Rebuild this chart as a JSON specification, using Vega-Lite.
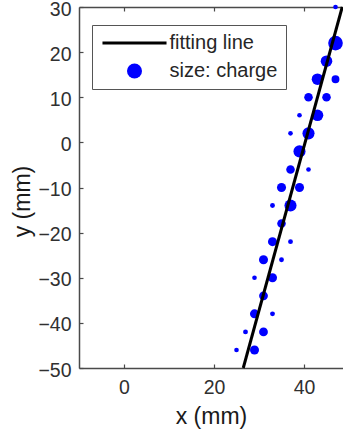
{
  "$schema": "https://vega.github.io/schema/vega-lite/v6.json",
  "width": 264,
  "height": 361,
  "autosize": "none",
  "padding": {"left": 79, "top": 7, "right": 0, "bottom": 64},
  "background": "white",
  "config": {
    "view": {"stroke": null},
    "font": "Liberation Sans",
    "axis": {
      "grid": false,
      "domainColor": "#4a4a4a",
      "domainWidth": 1.5,
      "tickColor": "#4a4a4a",
      "tickWidth": 1.2,
      "labelFont": "Liberation Sans",
      "labelFontSize": 19.5,
      "labelColor": "#303030",
      "labelFlush": false,
      "titleFont": "Liberation Sans",
      "titleFontSize": 23,
      "titleFontWeight": "normal",
      "titleColor": "#1a1a1a"
    }
  },
  "resolve": {"axis": {"x": "independent"}},
  "layer": [
    {
      "data": {
        "values": [
          {"x": 47, "y": 30, "charge": 1},
          {"x": 47, "y": 22, "charge": 10},
          {"x": 45, "y": 18, "charge": 6.2},
          {"x": 43, "y": 14, "charge": 6.2},
          {"x": 47, "y": 14, "charge": 2.9},
          {"x": 41, "y": 10, "charge": 3.4},
          {"x": 45, "y": 10, "charge": 3.4},
          {"x": 39, "y": 6, "charge": 1},
          {"x": 43, "y": 6, "charge": 6.2},
          {"x": 37, "y": 2, "charge": 1},
          {"x": 41, "y": 2, "charge": 6.8},
          {"x": 39, "y": -2, "charge": 6.8},
          {"x": 37, "y": -6, "charge": 3.4},
          {"x": 41, "y": -6, "charge": 1},
          {"x": 35, "y": -10, "charge": 3.8},
          {"x": 39, "y": -10, "charge": 3.8},
          {"x": 33, "y": -14, "charge": 1.1},
          {"x": 37, "y": -14, "charge": 6.8},
          {"x": 35, "y": -18, "charge": 3.4},
          {"x": 33, "y": -22, "charge": 3.8},
          {"x": 37, "y": -22, "charge": 1.1},
          {"x": 31, "y": -26, "charge": 3.8},
          {"x": 35, "y": -26, "charge": 1.1},
          {"x": 29, "y": -30, "charge": 1},
          {"x": 33, "y": -30, "charge": 3.8},
          {"x": 31, "y": -34, "charge": 3.6},
          {"x": 29, "y": -38, "charge": 3.8},
          {"x": 33, "y": -38, "charge": 1.1},
          {"x": 27, "y": -42, "charge": 1.1},
          {"x": 31, "y": -42, "charge": 3.6},
          {"x": 25, "y": -46, "charge": 1},
          {"x": 29, "y": -46, "charge": 3.8}
        ]
      },
      "mark": {"type": "point", "filled": true, "opacity": 1, "strokeWidth": 0},
      "encoding": {
        "x": {
          "field": "x", "type": "quantitative",
          "scale": {"domain": [-10, 48.667], "nice": false, "zero": false},
          "axis": {
            "orient": "bottom", "values": [0, 20, 40], "title": "x (mm)",
            "tickSize": -4, "labelPadding": 14,
            "titleBaseline": "top", "titleY": 37
          }
        },
        "y": {
          "field": "y", "type": "quantitative",
          "scale": {"domain": [-50, 30], "nice": false, "zero": false},
          "axis": {
            "values": [-50, -40, -30, -20, -10, 0, 10, 20, 30], "title": "y (mm)",
            "tickSize": -4, "labelPadding": 12, "labelOffset": 2,
            "titleX": -45, "titleY": 194
          }
        },
        "size": {
          "field": "charge", "type": "quantitative",
          "scale": {"domain": [0, 10], "range": [0, 215]},
          "legend": null
        },
        "color": {
          "datum": "size: charge",
          "scale": {"domain": ["fitting line", "size: charge"], "range": ["black", "blue"]},
          "legend": {
            "orient": "none", "legendX": 13, "legendY": 18, "title": null,
            "strokeColor": "#555555", "fillColor": "white", "padding": 8,
            "symbolSize": 225, "symbolOffset": 24.5, "labelOffset": 25,
            "labelFontSize": 20, "labelColor": "#262626", "labelFont": "Liberation Sans",
            "rowPadding": 8, "labelLimit": 0, "symbolStrokeWidth": 0
          }
        },
        "shape": {
          "datum": "size: charge",
          "scale": {"domain": ["fitting line", "size: charge"], "range": ["M-4.27,-0.2H4.27V0.2H-4.27Z", "circle"]},
          "legend": {
            "orient": "none", "legendX": 13, "legendY": 18, "title": null,
            "strokeColor": "#555555", "fillColor": "white", "padding": 8,
            "symbolSize": 225, "symbolOffset": 24.5, "labelOffset": 25,
            "labelFontSize": 20, "labelColor": "#262626", "labelFont": "Liberation Sans",
            "rowPadding": 8, "labelLimit": 0, "symbolStrokeWidth": 0
          }
        }
      }
    },
    {
      "data": {"values": [{"x": 26.5, "y": -50}, {"x": 48.5, "y": 30}]},
      "mark": {"type": "line", "color": "black", "strokeWidth": 3},
      "encoding": {
        "x": {
          "field": "x", "type": "quantitative",
          "axis": {"orient": "top", "values": [0, 20, 40], "labels": false, "title": null, "tickSize": -4}
        },
        "y": {
          "field": "y", "type": "quantitative",
          "axis": {
            "values": [-50, -40, -30, -20, -10, 0, 10, 20, 30], "title": "y (mm)",
            "tickSize": -4, "labelPadding": 12, "labelOffset": 2,
            "titleX": -45, "titleY": 194
          }
        }
      }
    }
  ]
}
